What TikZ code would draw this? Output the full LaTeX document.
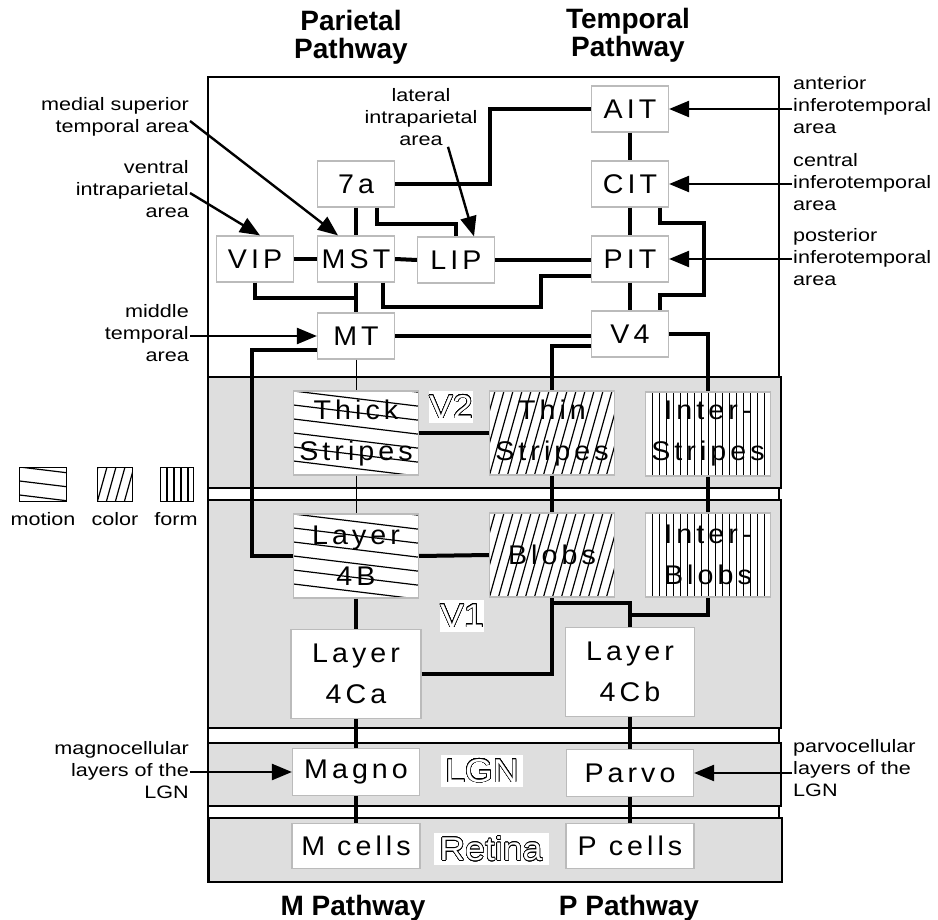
\documentclass[tikz,border=0pt]{standalone}
\usepackage{fontspec}
\setmainfont{Liberation Sans}
\newfontfamily\areafont{Liberation Sans}[FakeStretch=1.06,LetterSpace=15]
\newfontfamily\notefont{Liberation Sans}[FakeStretch=1.2]
\newfontfamily\tagfont{Liberation Sans}[FakeStretch=1.08]
\usepackage{contour}
\contourlength{0.55pt}
\contournumber{32}
\usetikzlibrary{arrows.meta}

\newcommand{\hollow}[1]{\contour{black}{#1}}

\begin{document}
\begin{tikzpicture}[x=1pt, y=-1pt,
    area/.style={draw=boxGrey, line width=1.2pt, fill=white, inner sep=0pt,
        minimum width=77pt, minimum height=46pt, align=center,
        font=\areafont\fontsize{27}{41}\selectfont},
    stripe/.style={area, minimum width=125pt, minimum height=84pt},
    hatch/.style={draw=black, line width=1.2pt},
    motionhatch/.style={path picture={
        \foreach \k in {-2,...,9}
            \draw[hatch] ([yshift=-\k*14pt]path picture bounding box.north west) -- ++(140pt,-17pt);}},
    colourhatch/.style={path picture={
        \foreach \k in {-4,...,15}
            \draw[hatch] ([xshift=\k*9pt]path picture bounding box.south west) -- ++(28pt,100pt);}},
    formhatch/.style={path picture={
        \foreach \k in {1,...,18}
            \draw[hatch] ([xshift=\k*7pt]path picture bounding box.south west) -- ++(0pt,100pt);}},
    key/.style={draw, line width=1pt, inner sep=0pt, minimum height=34pt},
    tag/.style={fill=white, text=white, inner sep=0pt, minimum height=32pt, font=\tagfont\fontsize{33}{33}\selectfont},
    title/.style={font=\bfseries\fontsize{28}{28}\selectfont, align=center},
    note/.style={font=\notefont\fontsize{18}{22}\selectfont, inner sep=1pt},
    band/.style={fill=bandGrey, draw=black, line width=2.6pt},
    wire/.style={line width=4pt},
    thinwire/.style={line width=1pt},
    pointer/.style={line width=2.4pt, -{Triangle[length=20pt,width=16pt]}}]

    % Define colours
    \definecolor{boxGrey}{HTML}{BBBBBB}
    \definecolor{bandGrey}{HTML}{DEDEDE}

    \useasboundingbox (0,0) rectangle (938,920);

    % Draw frame and bands
    \draw[line width=1.2pt] (208,77) rectangle (779,882);
    \filldraw[band] (208,377) rectangle (781,488);
    \filldraw[band] (208,500) rectangle (781,728);
    \filldraw[band] (208,743) rectangle (781,806);
    \filldraw[band] (209,818) rectangle (782,882);

    % Pathway titles
    \node[title] (parietal) at (351,37) {Parietal\\Pathway};
    \node[title] (temporal) at (628,35) {Temporal\\Pathway};
    \node[title] (mpath) at (353,908) {M Pathway};
    \node[title] (ppath) at (629,908) {P Pathway};

    % Temporal areas
    \node[area] (ait) at (630,109) {AIT};
    \node[area] (cit) at (630,184) {CIT};
    \node[area] (pit) at (630,259) {PIT};
    \node[area] (vfour) at (630,334) {V4};

    % Parietal areas
    \node[area] (sevena) at (356,184) {7a};
    \node[area] (vip) at (255,259) {VIP};
    \node[area] (mst) at (356,259) {MST};
    \node[area] (lip) at (456,260) {LIP};
    \node[area] (mt) at (356,336) {MT};

    % V2 stripes
    \node[stripe, motionhatch] (thick) at (356,433) {Thick\\Stripes};
    \node[stripe, colourhatch] (thin) at (552,433) {Thin\\Stripes};
    \node[stripe, formhatch] (inter) at (708,434) {Inter-\\Stripes};

    % V1 layers
    \node[stripe, motionhatch] (lfourb) at (356,556) {Layer\\4B};
    \node[stripe, colourhatch] (blobs) at (552,555) {Blobs};
    \node[stripe, formhatch] (iblobs) at (708,555) {Inter-\\Blobs};
    \node[area, minimum width=130pt, minimum height=89pt] (lfourca) at (356,674) {Layer\\4Ca};
    \node[area, minimum width=129pt, minimum height=89pt] (lfourcb) at (630,672) {Layer\\4Cb};

    % LGN and retina
    \node[area, minimum width=127pt, minimum height=47pt] (magno) at (356,772) {Magno};
    \node[area, minimum width=127pt, minimum height=47pt] (parvo) at (630,773) {Parvo};
    \node[area, minimum width=128pt, minimum height=45pt] (mcells) at (356,846) {M cells};
    \node[area, minimum width=128pt, minimum height=45pt] (pcells) at (630,846) {P cells};

    % Region tags
    \node[tag, minimum width=44pt] (vtwo) at (451,407) {\hollow{V2}};
    \node[tag, minimum width=44pt] (vone) at (462,616) {\hollow{V1}};
    \node[tag, minimum width=82pt] (lgn) at (482,771) {\hollow{LGN}};
    \node[tag, minimum width=115pt] (retina) at (491,849) {\hollow{Retina}};

    % Legend
    \node[key, minimum width=47pt, motionhatch] (motionkey) at (43,484) {};
    \node[key, minimum width=35pt, colourhatch] (colourkey) at (115,484) {};
    \node[key, minimum width=33pt, formhatch] (formkey) at (176.5,484) {};
    \node[note] (motionlbl) at (43,519) {motion};
    \node[note] (colourlbl) at (115,519) {color};
    \node[note] (formlbl) at (176,519) {form};

    % Area names
    \node[note, anchor=east, align=right] (mstnote) at (190,117) {medial superior\\temporal area};
    \node[note, anchor=east, align=right] (vipnote) at (190,189) {ventral\\intraparietal\\area};
    \node[note, anchor=east, align=right] (mtnote) at (190,333) {middle\\temporal\\area};
    \node[note, align=center] (lipnote) at (421,117) {lateral\\intraparietal\\area};
    \node[note, anchor=west, align=left] (aitnote) at (792,105) {anterior\\inferotemporal\\area};
    \node[note, anchor=west, align=left] (citnote) at (792,182) {central\\inferotemporal\\area};
    \node[note, anchor=west, align=left] (pitnote) at (792,257) {posterior\\inferotemporal\\area};
    \node[note, anchor=east, align=right] (magnonote) at (190,770) {magnocellular\\layers of the\\LGN};
    \node[note, anchor=west, align=left] (parvonote) at (792,768) {parvocellular\\layers of the\\LGN};

    % Draw temporal connections
    \draw[wire] (sevena.east) -- (490,184) |- (ait.west);
    \draw[wire] (ait.south) -- (cit.north);
    \draw[wire] (cit.south) -- (pit.north);
    \draw[wire] (pit.south) -- (vfour.north);
    \draw[wire] ([xshift=-9pt]cit.south east) -- ++(0,15) -| (704,295) -| ([xshift=-9pt]vfour.north east);

    % Draw parietal connections
    \draw[wire] (sevena.south) -- (mst.north);
    \draw[wire] ([xshift=21pt]sevena.south) -- ++(0,16) -| (lip.north);
    \draw[wire] (vip.east) -- (mst.west);
    \draw[wire] (mst.east) -- (lip.west);
    \draw[wire] (lip.east) -- (lip.east -| pit.west);
    \draw[wire] ([xshift=27pt]mst.south) -- ++(0,24) -| (541,276) -- ([yshift=-17pt]pit.west);
    \draw[wire] (vip.south) |- (356,298);
    \draw[wire] (mst.south) -- (mt.north);
    \draw[wire] (mt.east) -- (mt.east -| vfour.west);

    % Draw connections down to V2 and V1
    \draw[wire] (vfour.east) -| (inter.north);
    \draw[wire] ([yshift=-12pt]vfour.west) -| (thin.north);
    \draw[wire] ([yshift=-14pt]mt.west) -| (252,400) |- (lfourb.west);
    \draw[thinwire] (mt.south) -- (thick.north);
    \draw[thinwire] (thick.south) -- (lfourb.north);
    \draw[wire] (thick.east) -- (thin.west);
    \draw[wire] (thin.south) -- (blobs.north);
    \draw[wire] (inter.south) -- (iblobs.north);
    \draw[wire] (lfourb.east) -- (blobs.west);
    \draw[wire] (lfourb.south) -- (lfourca.north);
    \draw[wire] (lfourca.east) -| (blobs.south);
    \draw[wire] (blobs.south |- 0,603) -| (lfourcb.north);
    \draw[wire] (iblobs.south) |- (lfourcb.north |- 0,615);

    % Draw LGN and retina connections
    \draw[wire] (lfourca.south) -- (magno.north);
    \draw[wire] (magno.south) -- (mcells.north);
    \draw[wire] (lfourcb.south) -- (parvo.north);
    \draw[wire] (parvo.south) -- (pcells.north);

    % Draw name pointers
    \draw[pointer] ([yshift=-4pt]mstnote.east) -- ([xshift=-18pt]mst.north);
    \draw[pointer] ([yshift=-4pt]vipnote.east) -- ([xshift=5pt]vip.north);
    \draw[pointer] (mtnote.east |- mt.west) -- (mt.west);
    \draw[pointer] ([xshift=27pt]lipnote.south) -- ([xshift=18pt]lip.north);
    \draw[pointer] (aitnote.west |- ait.east) -- (ait.east);
    \draw[pointer] (citnote.west |- cit.east) -- (cit.east);
    \draw[pointer] (pitnote.west |- pit.east) -- (pit.east);
    \draw[pointer] (magnonote.east |- magno.west) -- (magno.west);
    \draw[pointer] (parvonote.west |- parvo.east) -- (parvo.east);

\end{tikzpicture}
\end{document}
